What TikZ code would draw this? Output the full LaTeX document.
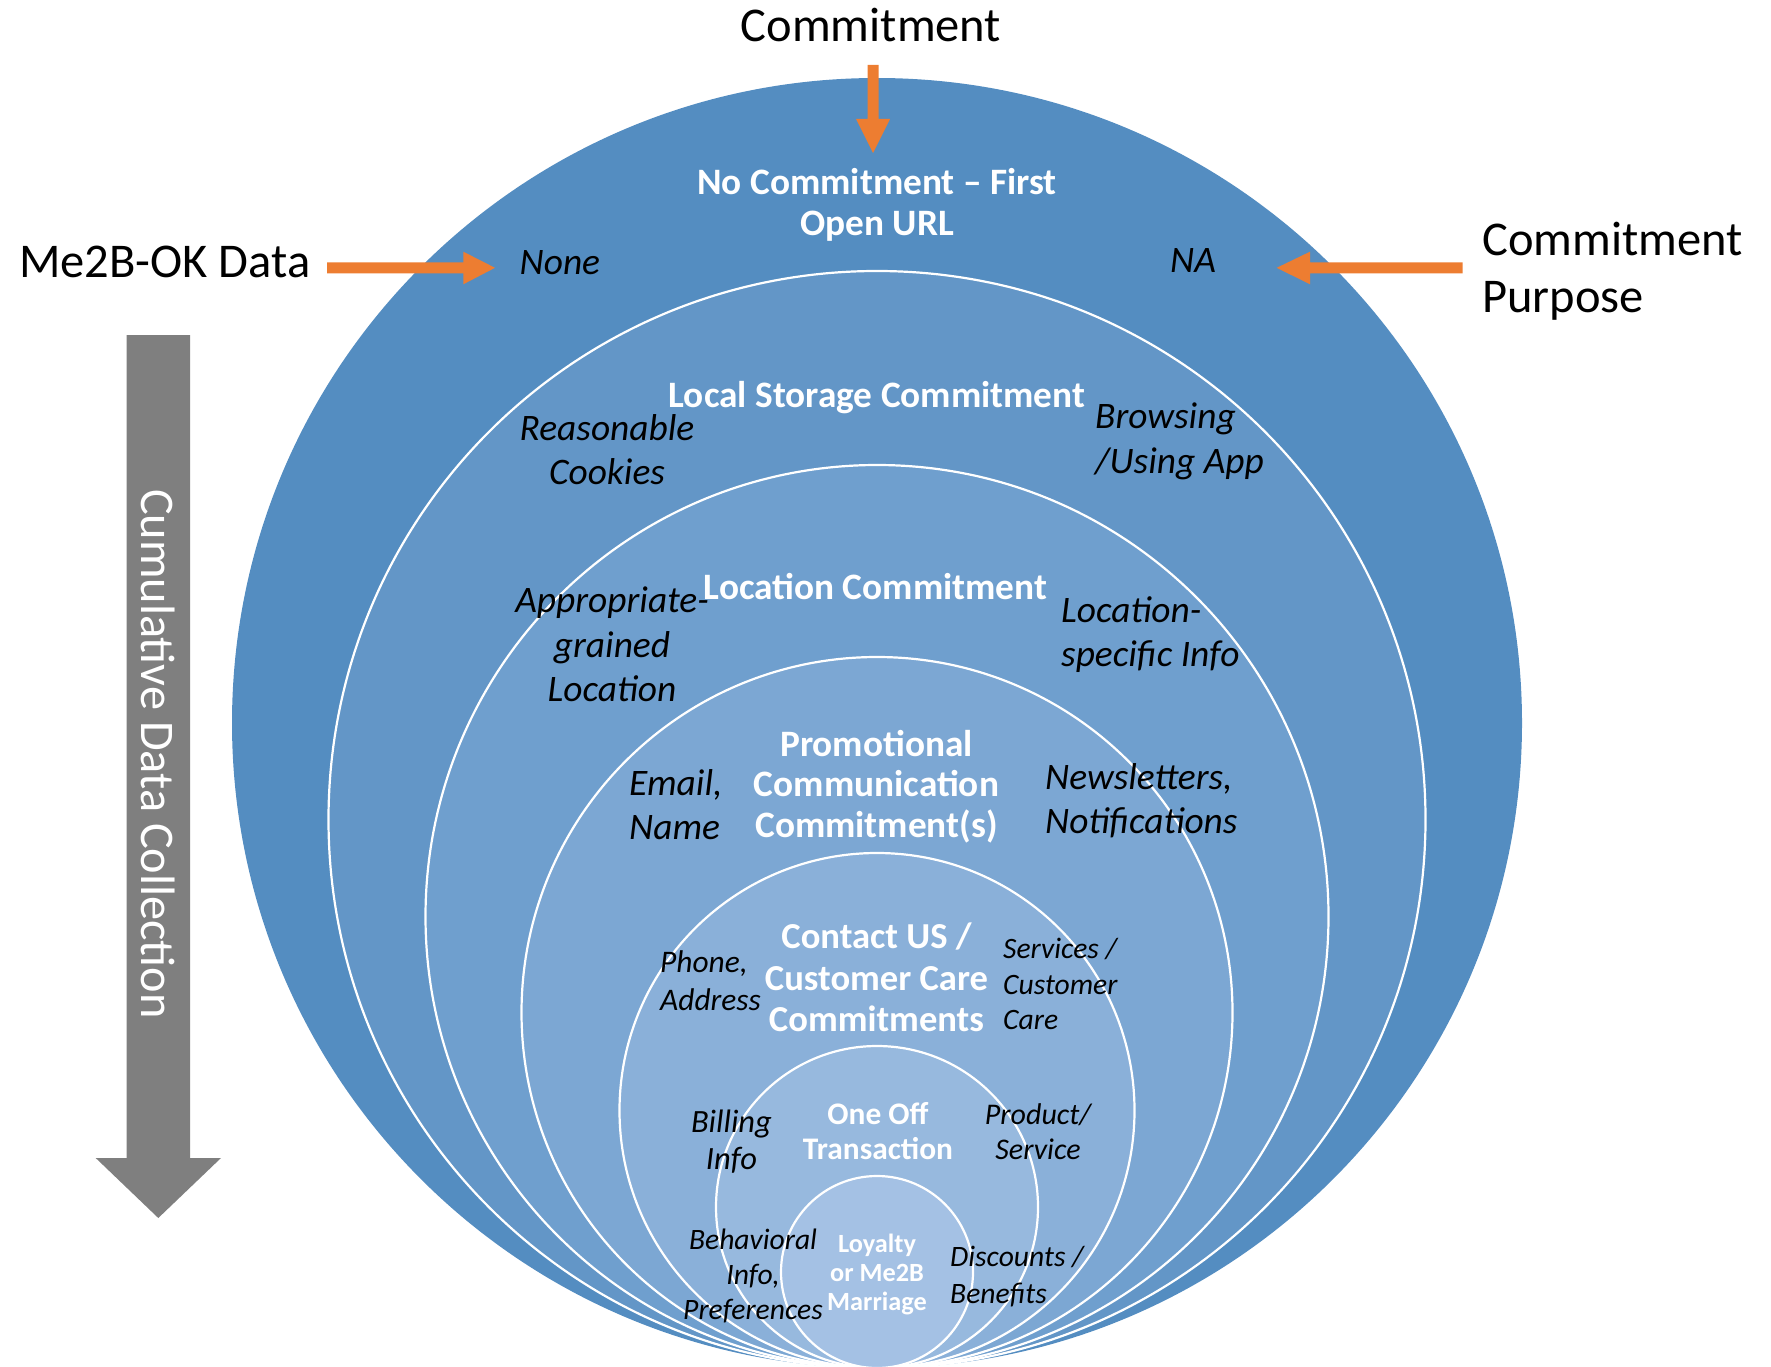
\documentclass[tikz,border=0pt]{standalone}
\usepackage{fontspec}
\setmainfont{Carlito}
\newcommand{\myfs}[2]{\fontsize{#1}{#2}\selectfont}
\newcommand{\mlc}[1]{\begin{tabular}[t]{@{}c@{}}#1\end{tabular}}
\newcommand{\mll}[1]{\begin{tabular}[t]{@{}l@{}}#1\end{tabular}}
\definecolor{cA}{RGB}{84,141,193}
\definecolor{cB}{RGB}{99,150,199}
\definecolor{cC}{RGB}{111,159,206}
\definecolor{cD}{RGB}{124,167,211}
\definecolor{cE}{RGB}{138,176,217}
\definecolor{cF}{RGB}{151,185,222}
\definecolor{cG}{RGB}{164,193,228}
\definecolor{orangeA}{RGB}{237,125,49}
\definecolor{grayA}{RGB}{127,127,127}
\tikzset{
  ring/.style={draw=white, line width=2.2pt},
  outerlbl/.style={inner sep=0, font=\myfs{48.5}{57}, text=black},
  title/.style={inner sep=0, font=\myfs{37.3}{41}\bfseries, text=white},
  note/.style={inner sep=0, font=\myfs{37.4}{44.5}\itshape, text=black},
  blockarrow/.style={fill=orangeA, draw=none},
}
\begin{document}
\begin{tikzpicture}[x=1pt,y=-1pt]
\useasboundingbox (0,0) rectangle (1771,1367);
\clip (0,0) rectangle (1771,1367);
% concentric circles, tangent at the bottom
\fill[cA] (877,723) circle (645);
\filldraw[fill=cB, ring] (877,819.5) circle (548.5);
\filldraw[fill=cC, ring] (877,916.5) circle (451.5);
\filldraw[fill=cD, ring] (877,1012.5) circle (355.5);
\filldraw[fill=cE, ring] (877,1110.5) circle (257.5);
\filldraw[fill=cF, ring] (877,1207) circle (161);
\filldraw[fill=cG, ring] (877,1272) circle (96);

% orange arrows
\fill[blockarrow] (867.7,65) -- (878.7,65) -- (878.7,119) -- (890,119) -- (873,153) -- (856,119) -- (867.7,119) -- cycle;
\fill[blockarrow] (327,262.3) -- (463.3,262.3) -- (463.3,251.7) -- (495,267.8) -- (463.3,284.3) -- (463.3,273.3) -- (327,273.3) -- cycle;
\fill[blockarrow] (1462.7,262.3) -- (1310,262.3) -- (1310,251.7) -- (1276.7,267.8) -- (1310,284.3) -- (1310,273.3) -- (1462.7,273.3) -- cycle;
% gray arrow
\fill[grayA] (126.7,335) -- (190,335) -- (190,1158) -- (221,1158) -- (158.3,1218) -- (95.7,1158) -- (126.7,1158) -- cycle;
\node[inner sep=0, anchor=base, rotate=-90, font=\myfs{48.3}{58}, text=white] (cum) at (141.7,754) {Cumulative Data Collection};

% outer labels
\node[outerlbl, anchor=base] (commit) at (871,42) {Commitment};
\node[outerlbl, anchor=base west] (me2b) at (19,277) {Me2B-OK Data};
\node[outerlbl, anchor=base west] (purpose) at (1482,255) {\mll{Commitment\\Purpose}};

% level 1
\node[title, anchor=base, font=\myfs{37.3}{40}\bfseries] (l1) at (877,195) {\mlc{No Commitment – First\\Open URL}};
\node[note, anchor=base west] (none) at (519.5,274) {None};
\node[note, anchor=base west] (na) at (1170,272) {NA};
% level 2
\node[title, anchor=base] (l2) at (877,407) {Local Storage Commitment};
\node[note, anchor=base, font=\myfs{37.4}{44}\itshape] (cook) at (607,440) {\mlc{Reasonable\\Cookies}};
\node[note, anchor=base west, font=\myfs{37.4}{45}\itshape] (brow) at (1095,428) {\mll{Browsing\\/Using App}};
% level 3
\node[title, anchor=base] (l3) at (875.5,599) {Location Commitment};
\node[note, anchor=base] (appr) at (612,612.7) {\mlc{Appropriate-\\grained\\Location}};
\node[note, anchor=base west, font=\myfs{37.4}{44}\itshape] (locs) at (1061,622.7) {\mll{Location-\\specific Info}};
% level 4
\node[title, anchor=base, font=\myfs{37.3}{40.5}\bfseries] (l4) at (876.5,756) {\mlc{Promotional\\Communication\\Commitment(s)}};
\node[note, anchor=base west, font=\myfs{37.4}{44.8}\itshape] (email) at (629,795) {\mll{Email,\\Name}};
\node[note, anchor=base west] (news) at (1045,789) {\mll{Newsletters,\\Notifications}};
% level 5
\node[title, anchor=base, font=\myfs{36.6}{41.3}\bfseries] (l5) at (876.5,948.8) {\mlc{Contact US /\\Customer Care\\Commitments}};
\node[note, anchor=base west, font=\myfs{31.4}{38}\itshape] (phone) at (660,972) {\mll{Phone,\\Address}};
\node[note, anchor=base west, font=\myfs{29.6}{35.6}\itshape] (serv) at (1003,958.7) {\mll{Services /\\Customer\\Care}};
% level 6
\node[title, anchor=base, font=\myfs{31.4}{35.5}\bfseries] (l6) at (878,1124) {\mlc{One Off\\Transaction}};
\node[note, anchor=base, font=\myfs{32.5}{37}\itshape] (bill) at (731.5,1132) {\mlc{Billing\\Info}};
\node[note, anchor=base, font=\myfs{30}{35.5}\itshape] (prod) at (1038,1124) {\mlc{Product/\\Service}};
% level 7
\node[title, anchor=base, font=\myfs{26.3}{29}\bfseries] (l7) at (877,1252) {\mlc{Loyalty\\or Me2B\\Marriage}};
\node[note, anchor=base, font=\myfs{29.6}{35}\itshape] (behav) at (753,1249) {\mlc{Behavioral\\Info,\\Preferences}};
\node[note, anchor=base west, font=\myfs{29.6}{36.5}\itshape] (disc) at (950,1266.5) {\mll{Discounts /\\Benefits}};
\end{tikzpicture}
\end{document}
